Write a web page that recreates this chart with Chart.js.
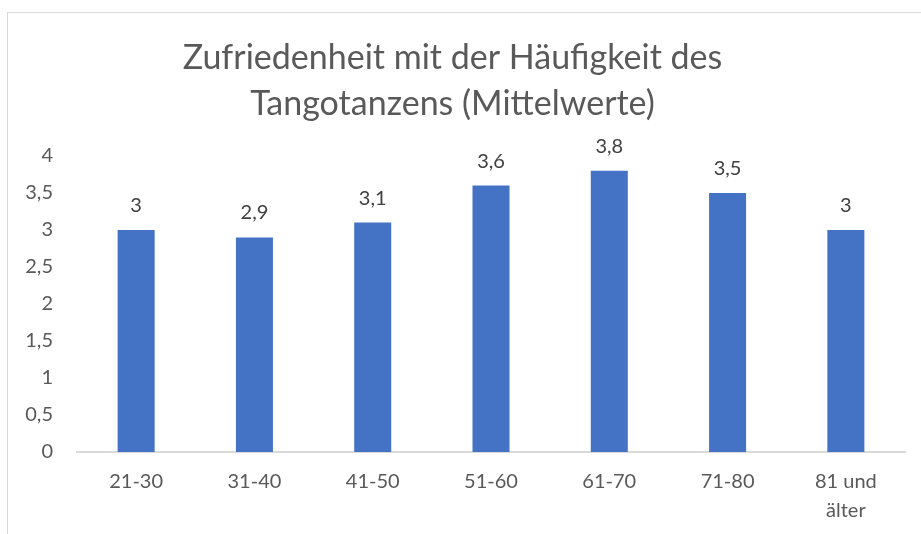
<!DOCTYPE html>
<html>
<head>
<meta charset="utf-8">
<script src="https://cdn.jsdelivr.net/npm/chart.js@4"></script>
<style>
  body { margin: 0; background: #fff; }
  #frame { position: absolute; left: 7px; top: 12px; width: 930px; height: 540px; border: 1px solid #d9d9d9; box-sizing: border-box; }
  #wrap { position: absolute; left: 0; top: 0; width: 921px; height: 534px; }
</style>
</head>
<body>
<div id="frame"></div>
<div id="wrap"><canvas id="chart"></canvas></div>
<script>
// --- Daten ---
const ageGroups = ['21-30', '31-40', '41-50', '51-60', '61-70', '71-80', ['81 und', 'älter']];
const meanValues = [3, 2.9, 3.1, 3.6, 3.8, 3.5, 3];
const titleLines = ['Zufriedenheit mit der Häufigkeit des', 'Tangotanzens (Mittelwerte)'];

const fontFamily = 'Lato, Carlito, Calibri, sans-serif';

// Werte über den Balken (mit Komma)
const valueLabels = {
    id: 'valueLabels',
    afterDatasetsDraw(chart) {
        const ctx = chart.ctx;
        const meta = chart.getDatasetMeta(0);
        ctx.save();
        ctx.font = '20px ' + fontFamily;
        ctx.fillStyle = '#404040';
        ctx.textAlign = 'center';
        ctx.textBaseline = 'alphabetic';
        meta.data.forEach((bar, i) => {
            const txt = String(meanValues[i]).replace('.', ',');
            ctx.fillText(txt, bar.x, bar.y - 18);
        });
        ctx.restore();
    }
};

const ctx = document.getElementById('chart').getContext('2d');
new Chart(ctx, {
    type: 'bar',
    data: {
        labels: ageGroups,
        datasets: [{
            data: meanValues,
            backgroundColor: '#4472C4',
            borderWidth: 0,
            categoryPercentage: 1,
            barPercentage: 0.313
        }]
    },
    options: {
        responsive: true,
        maintainAspectRatio: false,
        animation: false,
        layout: { padding: { top: 0, right: 16, bottom: 0, left: 0 } },
        scales: {
            x: {
                grid: { display: false, drawTicks: false },
                border: { display: true, color: '#d9d9d9', width: 2 },
                ticks: {
                    color: '#595959',
                    font: { family: fontFamily, size: 20, lineHeight: '29px' },
                    padding: 15,
                    maxRotation: 0,
                    autoSkip: false
                },
                afterFit(scale) { scale.height = 82; }
            },
            y: {
                min: 0,
                max: 4,
                grid: { display: false, drawTicks: false },
                border: { display: false },
                ticks: {
                    stepSize: 0.5,
                    color: '#595959',
                    font: { family: fontFamily, size: 20 },
                    padding: 24,
                    callback: v => String(v).replace('.', ',')
                },
                afterFit(scale) { scale.width = 77; }
            }
        },
        plugins: {
            legend: { display: false },
            tooltip: { enabled: false },
            title: {
                display: true,
                text: titleLines,
                color: '#595959',
                font: { family: fontFamily, size: 34, weight: 'normal', lineHeight: '46px' },
                padding: { top: 35, bottom: 29 }
            }
        }
    },
    plugins: [valueLabels]
});
</script>
</body>
</html>
